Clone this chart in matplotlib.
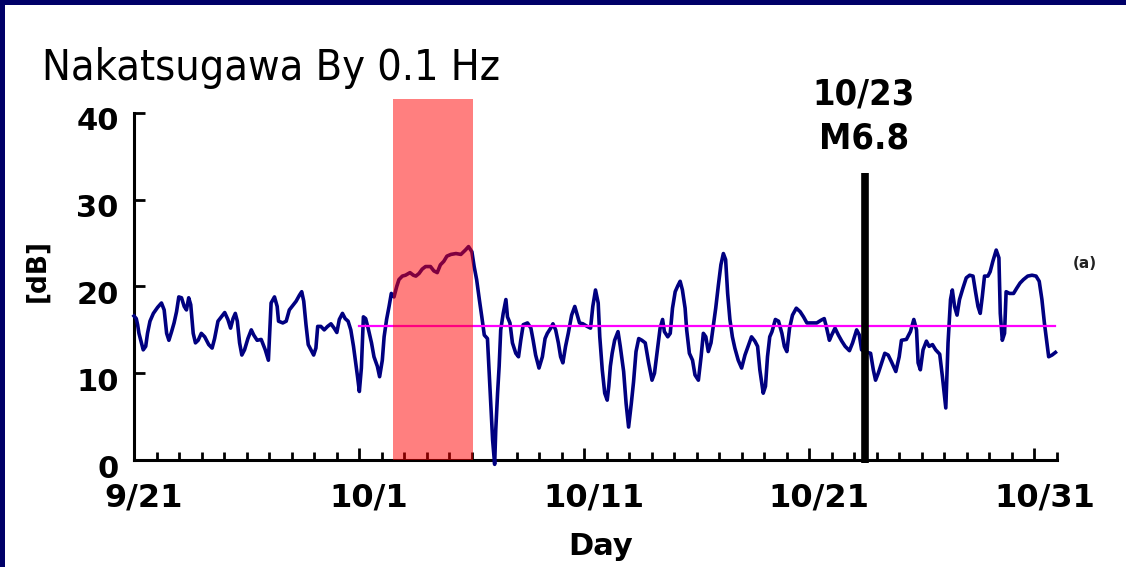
import matplotlib.pyplot as plt
import matplotlib.transforms as mtransforms
from matplotlib import font_manager
from matplotlib.patches import Rectangle

# day offset from 9/21 and field intensity [dB]
days = [0.00, 0.10, 0.16, 0.22, 0.31, 0.41, 0.52, 0.60, 0.71, 0.86, 1.05, 1.22, 1.34, 1.45, 1.55,
        1.67, 1.78, 1.89, 1.99, 2.11, 2.23, 2.33, 2.43, 2.52, 2.63, 2.73, 2.85, 2.99, 3.14, 3.32,
        3.47, 3.58, 3.73, 3.88, 4.03, 4.17, 4.29, 4.40, 4.50, 4.59, 4.69, 4.79, 4.91, 5.06, 5.21,
        5.32, 5.47, 5.65, 5.83, 5.97, 6.09, 6.24, 6.36, 6.42, 6.61, 6.76, 6.90, 7.20, 7.35, 7.45,
        7.54, 7.64, 7.74, 7.86, 7.98, 8.08, 8.16, 8.30, 8.45, 8.60, 8.75, 8.89, 9.01, 9.12, 9.26,
        9.38, 9.51, 9.63, 9.75, 9.85, 9.93, 10.01, 10.10, 10.19, 10.29, 10.40, 10.55, 10.66, 10.81,
        10.91, 11.03, 11.11, 11.22, 11.33, 11.43, 11.55, 11.67, 11.77, 11.92, 12.06, 12.26, 12.41,
        12.52, 12.66, 12.80, 12.95, 13.17, 13.32, 13.47, 13.61, 13.76, 13.90, 14.08, 14.30, 14.52,
        14.72, 14.86, 15.01, 15.11, 15.22, 15.34, 15.45, 15.56, 15.70, 15.81, 15.93, 16.02, 16.07,
        16.15, 16.22, 16.29, 16.40, 16.52, 16.59, 16.70, 16.81, 16.96, 17.08, 17.18, 17.29, 17.48,
        17.63, 17.73, 17.84, 17.99, 18.14, 18.26, 18.36, 18.51, 18.61, 18.73, 18.85, 18.95, 19.05,
        19.17, 19.29, 19.44, 19.58, 19.69, 19.79, 19.94, 20.13, 20.28, 20.38, 20.50, 20.62, 20.69,
        20.80, 20.91, 21.02, 21.09, 21.16, 21.24, 21.35, 21.50, 21.60, 21.75, 21.86, 21.97, 22.09,
        22.19, 22.30, 22.42, 22.56, 22.71, 22.86, 23.01, 23.12, 23.23, 23.37, 23.48, 23.56, 23.71,
        23.82, 23.92, 24.04, 24.16, 24.26, 24.36, 24.48, 24.55, 24.67, 24.81, 24.92, 25.07, 25.19,
        25.29, 25.40, 25.51, 25.63, 25.73, 25.84, 25.96, 26.07, 26.18, 26.28, 26.37, 26.47, 26.58,
        26.69, 26.84, 26.99, 27.14, 27.28, 27.43, 27.58, 27.70, 27.80, 27.95, 28.05, 28.14, 28.24,
        28.34, 28.49, 28.63, 28.78, 28.89, 29.00, 29.12, 29.25, 29.42, 29.59, 29.74, 29.89, 30.11,
        30.33, 30.51, 30.66, 30.75, 30.89, 30.99, 31.14, 31.29, 31.44, 31.59, 31.78, 31.92, 32.10,
        32.22, 32.32, 32.45, 32.72, 32.84, 32.94, 33.06, 33.21, 33.35, 33.50, 33.65, 33.84, 33.99,
        34.09, 34.31, 34.49, 34.64, 34.76, 34.83, 34.93, 35.05, 35.20, 35.32, 35.47, 35.61, 35.79,
        35.91, 36.06, 36.16, 36.27, 36.35, 36.45, 36.56, 36.67, 36.82, 36.97, 37.12, 37.27, 37.38,
        37.49, 37.59, 37.68, 37.78, 37.93, 38.03, 38.15, 38.30, 38.42, 38.48, 38.57, 38.67, 38.74,
        38.89, 39.07, 39.21, 39.36, 39.51, 39.70, 39.89, 40.07, 40.21, 40.33, 40.44, 40.54, 40.63,
        40.78, 40.93]
db = [16.6, 16.3, 15.6, 14.6, 13.7, 12.7, 13.1, 14.6, 16.0, 16.9, 17.6, 18.1, 17.3, 14.6, 13.8,
      14.8, 15.8, 17.1, 18.8, 18.7, 17.7, 17.3, 18.7, 17.9, 14.6, 13.5, 13.8, 14.6, 14.2, 13.3,
      12.9, 14.0, 16.0, 16.5, 17.0, 16.2, 15.2, 16.3, 16.9, 16.0, 13.5, 12.1, 12.7, 14.0, 15.0,
      14.4, 13.8, 13.9, 12.7, 11.5, 18.1, 18.8, 17.7, 16.0, 15.8, 16.0, 17.3, 18.3, 19.0, 19.4,
      18.3, 15.6, 13.3, 12.7, 12.1, 12.9, 15.4, 15.4, 15.0, 15.4, 15.7, 15.2, 14.7, 16.2, 16.9,
      16.3, 16.0, 15.0, 13.1, 11.2, 9.6, 7.9, 10.6, 16.5, 16.3, 15.2, 13.5, 11.9, 10.8,
      9.6, 11.5, 14.2, 16.2, 17.7, 19.2, 18.8, 20.0, 20.8, 21.2, 21.3, 21.6, 21.3,
      21.2, 21.5, 22.0, 22.3, 22.3, 21.8, 21.6, 22.5, 22.9, 23.5, 23.7, 23.8, 23.7,
      24.2, 24.6, 24.0, 22.3, 20.8, 18.5, 16.5, 14.4, 14.0, 8.5, 2.3, -0.5, 3.5,
      7.7, 10.8, 15.0, 16.9, 18.5, 16.5, 15.8, 13.5, 12.3, 11.9, 13.8, 15.6, 15.8,
      15.2, 13.8, 12.1, 10.6, 11.9, 14.0, 14.6, 15.2, 15.7, 15.0, 13.5, 11.9, 11.2,
      13.1, 14.6, 16.7, 17.7, 16.7, 15.8, 15.7, 15.4, 15.2, 17.7, 19.6, 18.1, 14.2,
      10.4, 7.7, 6.9, 8.5, 10.8, 12.3, 13.8, 14.8, 13.1, 10.2, 6.5, 3.8, 6.5,
      9.0, 12.5, 14.0, 13.8, 13.5, 11.2, 9.2, 10.0, 12.3, 15.2, 16.2, 14.8, 14.2,
      14.6, 17.5, 19.4, 20.1, 20.6, 19.6, 17.5, 15.0, 12.3, 11.5, 9.8, 9.2, 11.9,
      14.6, 14.2, 12.5, 13.5, 15.4, 17.5, 20.2, 22.5, 23.8, 23.1, 19.2, 16.2, 14.2,
      12.9, 11.5, 10.6, 12.1, 13.1, 14.2, 13.7, 13.1, 10.4, 7.7, 8.5, 11.9, 14.2,
      14.8, 16.2, 16.0, 14.6, 13.1, 12.5, 15.2, 16.7, 17.5, 17.1, 16.5, 15.8, 15.8,
      15.8, 16.1, 16.3, 15.4, 13.8, 14.4, 15.2, 14.4, 13.7, 13.1, 12.6, 13.5, 15.0,
      14.4, 12.7, 12.5, 12.3, 10.4, 9.2, 10.0, 11.2, 12.3, 12.1, 11.3, 10.2, 11.9,
      13.8, 13.9, 14.8, 16.2, 15.0, 11.2, 10.4, 12.7, 13.7, 13.1, 13.3, 12.7, 12.2,
      9.6, 6.0, 13.5, 18.5, 19.6, 17.7, 16.7, 18.5, 19.8, 21.0, 21.3, 21.2, 19.4,
      17.7, 16.9, 18.8, 21.2, 21.2, 21.7, 22.9, 24.2, 23.3, 16.9, 13.8, 14.6, 19.4,
      19.2, 19.2, 19.8, 20.4, 20.8, 21.2, 21.3, 21.2, 20.6, 18.5, 15.8, 13.7, 11.9,
      12.1, 12.4]

tick_days = [0, 10, 20, 30, 40]
tick_labels = ['9/21', '10/1', '10/11', '10/21', '10/31']
y_ticks = [0, 10, 20, 30, 40]

mean_level = 15.45
mean_start = 10.0
anomaly_start, anomaly_end, anomaly_top = 11.5, 15.05, 41.6
quake_day, quake_top = 32.45, 33.1


def narrow_font(bold):
    # look for an installed narrow / condensed face, else plain DejaVu
    for f in font_manager.fontManager.ttflist:
        fn = f.fname.lower()
        if ('narrow' in fn or 'condensed' in fn) and 'oblique' not in fn and 'italic' not in fn:
            is_bold = 'bold' in fn
            if is_bold == bold:
                return font_manager.FontProperties(fname=f.fname), True
    return font_manager.FontProperties(family='DejaVu Sans',
                                       weight='bold' if bold else 'normal'), False


title_fp, title_narrow = narrow_font(False)
quake_fp, quake_narrow = narrow_font(True)

fig = plt.figure(figsize=(11.26, 5.67), dpi=100)
ax = fig.add_axes([134 / 1126, 107 / 567, 923 / 1126, 347 / 567])

ax.plot(days, db, color='#000080', lw=2.6, zorder=2.6, clip_on=False)
ax.plot([mean_start, days[-1]], [mean_level, mean_level], color='#ff00ff', lw=1.6, zorder=2.7)
ax.add_patch(Rectangle((anomaly_start, 0), anomaly_end - anomaly_start, anomaly_top,
                       color='red', alpha=0.5, lw=0, zorder=3, clip_on=False))
ax.plot([quake_day, quake_day], [-0.35, quake_top], color='black', lw=5.5,
        solid_capstyle='butt', zorder=4, clip_on=False)

ax.set_xlim(0, 41)
ax.set_ylim(0, 40)
for s in ['top', 'right']:
    ax.spines[s].set_visible(False)
for s in ['left', 'bottom']:
    ax.spines[s].set_linewidth(2.2)

ax.set_xticks(tick_days)
ax.set_xticklabels(tick_labels)
ax.set_xticks(range(0, 42), minor=True)
ax.set_yticks(y_ticks)
ax.tick_params(axis='x', which='major', direction='in', length=8.6, width=2, pad=16,
               labelsize=23)
ax.tick_params(axis='x', which='minor', direction='in', length=5.8, width=2)
ax.tick_params(axis='y', direction='in', length=8, width=2, pad=11, labelsize=22)
for lab in ax.get_xticklabels() + ax.get_yticklabels():
    lab.set_fontweight('bold')
dx = mtransforms.ScaledTranslation(10 / 100, 0, fig.dpi_scale_trans)
for lab in ax.get_xticklabels():
    lab.set_transform(lab.get_transform() + dx)
dy = mtransforms.ScaledTranslation(0, -6 / 100, fig.dpi_scale_trans)
for lab in ax.get_yticklabels():
    lab.set_transform(lab.get_transform() + dy)

title_fp.set_size(31 if title_narrow else 27)
quake_fp.set_size(26 if quake_narrow else 23)
fig.text(42 / 1126, 1 - 80 / 567, 'Nakatsugawa By 0.1 Hz', fontproperties=title_fp,
         ha='left', va='baseline')
fig.text(864 / 1126, 1 - 104 / 567, '10/23', fontproperties=quake_fp,
         ha='center', va='baseline')
fig.text(864 / 1126, 1 - 149 / 567, 'M6.8', fontproperties=quake_fp,
         ha='center', va='baseline')
fig.text(1085 / 1126, 1 - 264 / 567, '(a)', fontsize=11, fontweight='bold',
         color='#222222', ha='center', va='center')
fig.text(37 / 1126, 1 - 270 / 567, '[dB]', fontsize=19, fontweight='bold',
         rotation=90, ha='center', va='center')
fig.text(601 / 1126, 1 - 555 / 567, 'Day', fontsize=22, fontweight='bold',
         ha='center', va='baseline')

# navy frame on top and left edges
fig.patches.append(Rectangle((0, 1 - 5 / 567), 1, 5 / 567, transform=fig.transFigure,
                             color='#000068', lw=0))
fig.patches.append(Rectangle((0, 0), 5 / 1126, 1, transform=fig.transFigure,
                             color='#000068', lw=0))

fig.savefig('out.png', dpi=100)
